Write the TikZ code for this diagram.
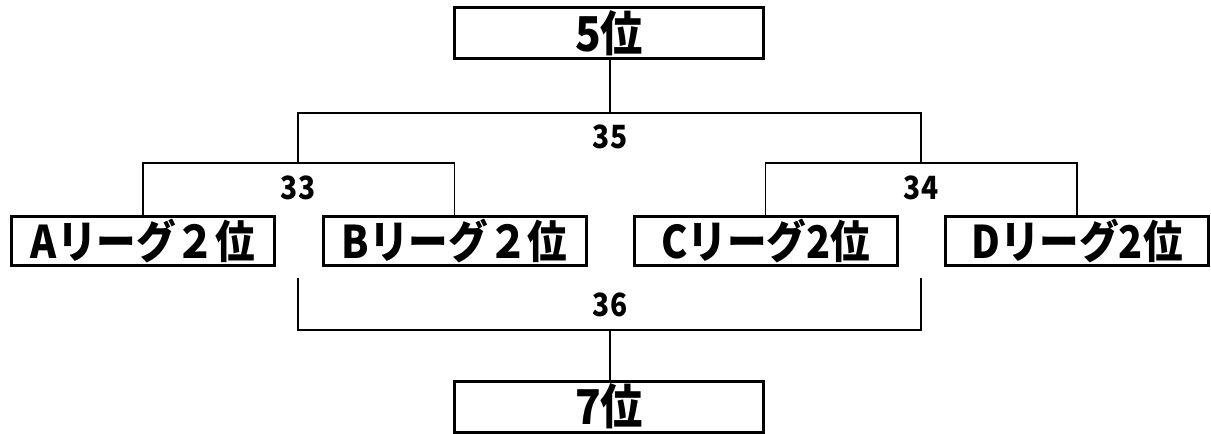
\documentclass[tikz,border=0pt]{standalone}
\usepackage{fontspec}
\newfontfamily\jp{Noto Sans CJK JP}[FakeStretch=0.88]
\begin{document}
\begin{tikzpicture}[x=0.5pt,y=-0.5pt,
    team/.style={draw,line width=1.5pt,minimum width=131.5pt,minimum height=24.5pt,inner sep=0pt,font=\jp\bfseries\fontsize{22.5}{22.5}\selectfont},
    place/.style={team,minimum width=154.5pt,minimum height=25.5pt,font=\jp\bfseries\fontsize{24}{24}\selectfont},
    game/.style={inner sep=0pt,font=\jp\bfseries\fontsize{16}{16}\selectfont},
    line/.style={line width=0.75pt}]
    \useasboundingbox (0,0) rectangle (1211,434);
    \node[place] (p5) at (609,33) {5位};
    \node[place] (p7) at (609,406.5) {7位};
    \node[team] (a) at (143,241) {Aリーグ２位};
    \node[team] (b) at (454.5,241) {Bリーグ２位};
    \node[team] (c) at (765.5,241) {Cリーグ2位};
    \node[team] (d) at (1077,241) {Dリーグ2位};
    \node[game] (g35) at (610,137) {35};
    \node[game] (g33) at (298,188) {33};
    \node[game] (g34) at (921,188) {34};
    \node[game] (g36) at (610,305) {36};
    \coordinate (j35) at (610,113);
    \coordinate (j33) at (298,163);
    \coordinate (j34) at (921,163);
    \coordinate (j36) at (610,330);
    \coordinate (s33) at (298,278);
    \coordinate (s34) at (921,278);
    \draw[line] (a.north) |- (j33) -| (b.north);
    \draw[line] (c.north) |- (j34) -| (d.north);
    \draw[line] (j33) |- (j35) -| (j34);
    \draw[line] (j35) -- (j35 |- p5.south);
    \draw[line] (s33) |- (j36) -| (s34);
    \draw[line] (j36) -- (j36 |- p7.north);
\end{tikzpicture}
\end{document}
